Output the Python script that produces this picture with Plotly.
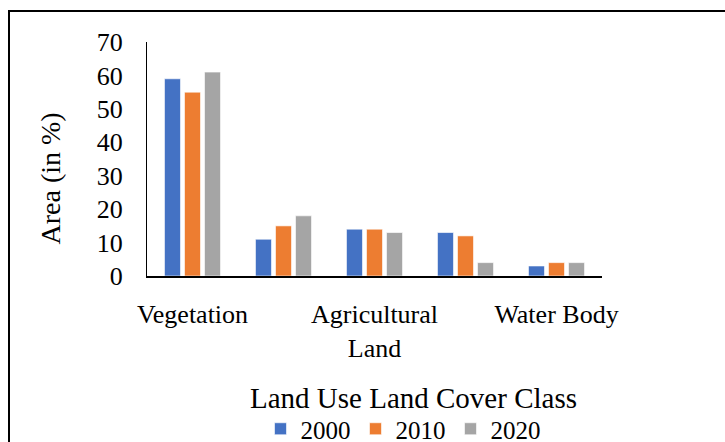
import plotly.graph_objects as go

# Categories (the 2nd and 4th class names are not printed in the reference)
categories = ["Vegetation", "Class 2", "Agricultural Land", "Class 4", "Water Body"]
tick_labels = ["Vegetation", "", "Agricultural<br>Land", "", "Water Body"]

years = ["2000", "2010", "2020"]
area_2000 = [59, 11, 14, 13, 3]
area_2010 = [55, 15, 14, 12, 4]
area_2020 = [61, 18, 13, 4, 4]

y_ticks = [0, 10, 20, 30, 40, 50, 60, 70]

colors = ["#4472C4", "#ED7D31", "#A5A5A5"]
font_family = "Liberation Serif, Times New Roman, serif"

fig = go.Figure()
for name, vals, col in zip(years, [area_2000, area_2010, area_2020], colors):
    fig.add_trace(go.Bar(
        x=categories, y=vals, name=name,
        marker=dict(color=col, line=dict(color="rgba(255,255,255,0.6)", width=1)),
    ))

# plot area: x 147..602, y 42..276
L, R, T, B = 147, 123, 42, 166
W, H = 725 - L - R, 442 - T - B

def px_x(p):
    return (p - L) / W

def px_y(p):
    return (442 - B - p) / H

fig.update_layout(
    width=725, height=442,
    margin=dict(l=L, r=R, t=T, b=B, autoexpand=False),
    paper_bgcolor="white", plot_bgcolor="white",
    font=dict(family=font_family, color="black", size=26),
    barmode="group", bargap=0.34, bargroupgap=0.2,
    showlegend=True,
    legend=dict(
        orientation="h", x=px_x(403), y=px_y(429),
        xanchor="center", yanchor="middle",
        font=dict(size=25, family=font_family),
        bgcolor="rgba(0,0,0,0)", itemwidth=30, tracegroupgap=0,
    ),
    xaxis=dict(
        tickmode="array", tickvals=categories, ticktext=tick_labels,
        showline=True, linecolor="black", linewidth=2,
        showgrid=False, ticks="", tickfont=dict(size=26),
        ticklabelstandoff=14,
    ),
    yaxis=dict(
        range=[0, 70], tickvals=y_ticks,
        showline=True, linecolor="black", linewidth=1,
        showgrid=False, ticks="", tickfont=dict(size=26),
        ticklabelstandoff=18, zeroline=False,
    ),
    annotations=[
        dict(text="Area (in %)", xref="paper", yref="paper",
             x=px_x(50), y=px_y(178.5), xanchor="center", yanchor="middle",
             textangle=-90, showarrow=False, font=dict(size=28)),
        dict(text="Land Use Land Cover Class", xref="paper", yref="paper",
             x=px_x(413), y=px_y(398), xanchor="center", yanchor="middle",
             showarrow=False, font=dict(size=29)),
    ],
    shapes=[
        dict(type="rect", xref="paper", yref="paper",
             x0=px_x(9), x1=px_x(740), y0=px_y(460), y1=px_y(11),
             line=dict(color="black", width=2), fillcolor="rgba(0,0,0,0)",
             layer="below"),
    ],
)

fig.write_html("out.html", config={"displayModeBar": False},
               post_script="document.body.style.margin='0';")
